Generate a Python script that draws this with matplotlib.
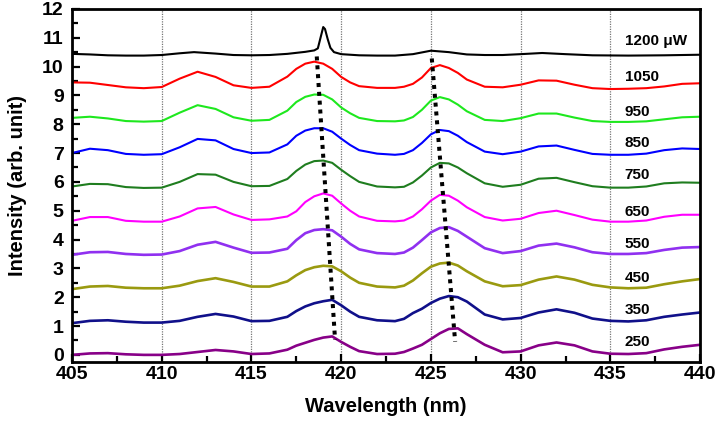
import numpy as np
import matplotlib
matplotlib.use("Agg")
import matplotlib.pyplot as plt
from matplotlib.ticker import MultipleLocator

plt.rcParams['font.family'] = ['Liberation Sans', 'DejaVu Sans']
plt.rcParams['font.weight'] = 'bold'

# wavelength grid shared by the 1050 ... 250 uW spectra (nm)
wl = [405, 406, 407, 408, 409, 410, 411, 412, 413, 414, 415, 416,
      417, 417.5, 418, 418.5, 419, 419.5, 420, 420.5, 421,
      422, 423, 423.5, 424, 424.5, 425, 425.5, 426, 426.5, 427,
      428, 429, 430, 431, 432, 433, 434, 435, 436, 437, 438, 439, 440]

s1050 = [9.45, 9.44, 9.36, 9.28, 9.25, 9.29, 9.58, 9.82, 9.64, 9.35, 9.26, 9.3,
         9.65, 9.92, 10.1, 10.17, 10.1, 9.92, 9.64, 9.45, 9.32,
         9.26, 9.26, 9.3, 9.4, 9.62, 9.95, 10.05, 9.95, 9.78, 9.55,
         9.3, 9.28, 9.37, 9.52, 9.51, 9.37, 9.25, 9.22, 9.23, 9.25, 9.31, 9.4, 9.42]
s950 = [8.22, 8.26, 8.2, 8.11, 8.09, 8.11, 8.4, 8.66, 8.53, 8.24, 8.12, 8.15,
        8.47, 8.77, 8.95, 9.03, 9.02, 8.86, 8.58, 8.38, 8.22,
        8.11, 8.1, 8.13, 8.25, 8.5, 8.82, 8.94, 8.86, 8.68, 8.45,
        8.15, 8.11, 8.21, 8.37, 8.37, 8.23, 8.11, 8.08, 8.08, 8.1, 8.17, 8.24, 8.26]
s850 = [7.0, 7.15, 7.1, 6.97, 6.94, 6.96, 7.2, 7.49, 7.44, 7.14, 7.0, 7.02,
        7.3, 7.6, 7.78, 7.86, 7.86, 7.74, 7.5, 7.28, 7.1,
        6.98, 6.94, 6.97, 7.1, 7.35, 7.65, 7.8, 7.76, 7.6, 7.38,
        7.05, 6.96, 7.05, 7.23, 7.26, 7.11, 6.97, 6.94, 6.94, 6.98, 7.1, 7.16, 7.14]
s750 = [5.84, 5.93, 5.92, 5.82, 5.79, 5.8, 6.0, 6.27, 6.25, 6.0, 5.85, 5.86,
        6.1, 6.38, 6.6, 6.72, 6.74, 6.66, 6.42, 6.2, 6.0,
        5.84, 5.81, 5.83, 5.98, 6.22, 6.5, 6.66, 6.64, 6.5, 6.3,
        5.95, 5.83, 5.9, 6.11, 6.14, 5.99, 5.85, 5.8, 5.8, 5.84, 5.95, 5.98, 5.97]
s650 = [4.65, 4.78, 4.78, 4.65, 4.62, 4.62, 4.8, 5.08, 5.13, 4.87, 4.68, 4.7,
        4.8, 4.98, 5.3, 5.5, 5.6, 5.52, 5.25, 5.0, 4.8,
        4.65, 4.63, 4.66, 4.8, 5.05, 5.35, 5.55, 5.52, 5.35, 5.12,
        4.78, 4.66, 4.72, 4.92, 5.0, 4.85, 4.69, 4.62, 4.62, 4.66, 4.79, 4.86, 4.86]
s550 = [3.47, 3.56, 3.57, 3.5, 3.47, 3.48, 3.6, 3.82, 3.92, 3.72, 3.54, 3.55,
        3.68, 3.98, 4.22, 4.33, 4.36, 4.32, 4.1, 3.85, 3.66,
        3.53, 3.5, 3.55, 3.72, 3.98, 4.25, 4.4, 4.43, 4.3, 4.1,
        3.7, 3.53, 3.6, 3.79, 3.86, 3.73, 3.56, 3.5, 3.5, 3.53, 3.64, 3.72, 3.74]
s450 = [2.28, 2.37, 2.39, 2.33, 2.31, 2.31, 2.4, 2.56, 2.66, 2.53, 2.37, 2.37,
        2.55, 2.76, 2.94, 3.04, 3.09, 3.07, 2.9, 2.68, 2.5,
        2.37, 2.34, 2.4, 2.58, 2.83, 3.06, 3.17, 3.2, 3.1, 2.9,
        2.55, 2.38, 2.42, 2.61, 2.72, 2.61, 2.43, 2.34, 2.31, 2.33, 2.45, 2.55, 2.63]
s350 = [1.1, 1.18, 1.2, 1.15, 1.12, 1.12, 1.18, 1.32, 1.42, 1.33, 1.17, 1.18,
        1.32, 1.52, 1.68, 1.79, 1.86, 1.91, 1.72, 1.5, 1.32,
        1.2, 1.17, 1.25, 1.45, 1.6, 1.8, 1.95, 2.04, 2.0, 1.85,
        1.4, 1.23, 1.28, 1.47, 1.58, 1.46, 1.26, 1.18, 1.16, 1.2, 1.32, 1.4, 1.47]
s250 = [0.0, 0.05, 0.06, 0.02, 0.0, 0.0, 0.03, 0.1, 0.17, 0.12, 0.03, 0.05,
        0.18, 0.32, 0.42, 0.52, 0.6, 0.64, 0.45, 0.28, 0.13,
        0.03, 0.04, 0.1, 0.22, 0.35, 0.55, 0.75, 0.9, 0.92, 0.72,
        0.35, 0.09, 0.12, 0.33, 0.43, 0.33, 0.12, 0.04, 0.03, 0.06, 0.19, 0.28, 0.35]

# 1200 uW spectrum has its own sampling (sharp lasing line near 419 nm)
wl_1200 = [405, 406, 407, 408, 409, 410, 411, 411.8, 413, 414, 415, 416, 417,
           418, 418.5, 418.7, 418.85, 419.0, 419.1, 419.25, 419.4, 419.6,
           420, 421, 422, 423, 424, 425, 426, 427, 428, 429, 430,
           431.2, 432.5, 434, 436, 438, 440]
s1200 = [10.44, 10.42, 10.39, 10.38, 10.38, 10.4, 10.46, 10.5, 10.45, 10.4, 10.39, 10.4, 10.44,
         10.51, 10.56, 10.63, 11.0, 11.37, 11.3, 10.95, 10.65, 10.5,
         10.43, 10.39, 10.38, 10.38, 10.43, 10.55, 10.5, 10.42, 10.4, 10.4, 10.43,
         10.47, 10.43, 10.39, 10.38, 10.39, 10.41]

powers = ['1200 μW', '1050', '950', '850', '750', '650', '550', '450', '350', '250']
label_y = [10.87, 9.65, 8.44, 7.34, 6.24, 4.97, 3.85, 2.66, 1.56, 0.43]

# peak shift guides (top end, bottom end)
guide1_x = [418.64, 419.66]
guide1_y = [10.35, 0.52]
guide2_x = [425.05, 426.35]
guide2_y = [10.28, 0.46]

spectra = [(wl_1200, s1200), (wl, s1050), (wl, s950), (wl, s850), (wl, s750),
           (wl, s650), (wl, s550), (wl, s450), (wl, s350), (wl, s250)]
colors = ['black', '#ff0000', '#1ee81e', '#0000ff', '#1f7d1f',
          '#ff00ff', '#9030f0', '#9a9a10', '#10108a', '#880088']

fig = plt.figure(figsize=(7.27, 4.23), dpi=100)
ax = fig.add_axes([0.099, 0.144, 0.864, 0.835])

for xv in range(410, 440, 5):
    ax.axvline(xv, color='#777777', lw=0.9, ls=(0, (1, 1)), zorder=1)

for i, (xs, ys) in enumerate(spectra):
    lw = 1.5 if i < 6 else 1.9
    ax.plot(xs, ys, color=colors[i], lw=lw, zorder=2)

for gx, gy in [(guide1_x, guide1_y), (guide2_x, guide2_y)]:
    ax.plot(gx, gy, color='black', lw=2.9, ls=(0, (1, 1.2)), zorder=3)

for txt, yy in zip(powers, label_y):
    ax.text(435.8, yy, txt, fontsize=11, fontweight='bold', ha='left', va='center')

ax.set_xlim(405, 440)
ax.set_ylim(-0.25, 12)
ax.xaxis.set_major_locator(MultipleLocator(5))
ax.xaxis.set_minor_locator(MultipleLocator(2.5))
ax.yaxis.set_major_locator(MultipleLocator(1))
ax.yaxis.set_minor_locator(MultipleLocator(0.5))
ax.tick_params(which='both', direction='in', width=1.6, labelsize=14)
ax.tick_params(axis='x', which='major', length=6, pad=3)
ax.tick_params(axis='x', which='minor', length=4)
ax.tick_params(axis='y', which='major', length=6, pad=6)
ax.tick_params(axis='y', which='minor', length=4)
for lab in ax.get_xticklabels() + ax.get_yticklabels():
    lab.set_fontweight('bold')
for sp in ax.spines.values():
    sp.set_linewidth(2)

ax.set_xlabel('Wavelength (nm)', fontsize=14.5, fontweight='bold', labelpad=10)
ax.set_ylabel('Intensity (arb. unit)', fontsize=14.5, fontweight='bold', labelpad=11)

fig.savefig('out.png', dpi=100)
